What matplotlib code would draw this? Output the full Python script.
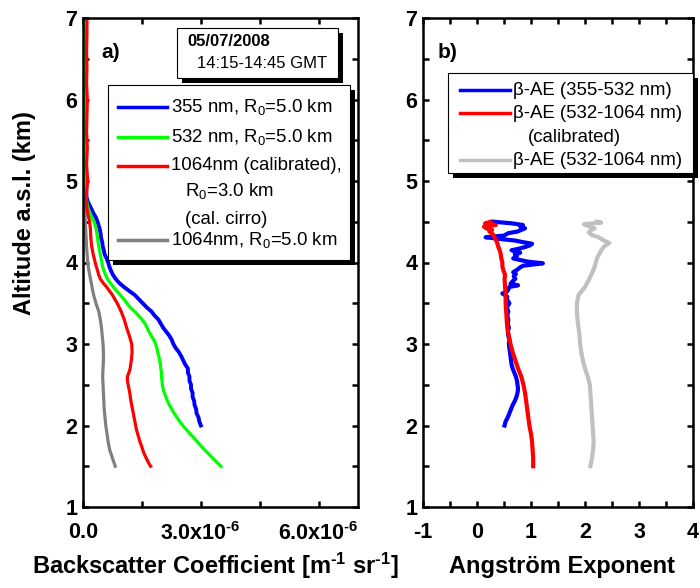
import numpy as np
import matplotlib
matplotlib.use('Agg')
import matplotlib.pyplot as plt
from matplotlib.patches import Rectangle
from matplotlib.lines import Line2D
from matplotlib.ticker import MultipleLocator, FuncFormatter

plt.rcParams['font.family'] = ['Liberation Sans', 'DejaVu Sans']
plt.rcParams['mathtext.default'] = 'regular'
plt.rcParams['mathtext.fontset'] = 'custom'
plt.rcParams['mathtext.rm'] = 'Liberation Sans:bold'
plt.rcParams['axes.unicode_minus'] = False

# backscatter profiles, values in 1e-6 m^-1 sr^-1
ALT_355 = [2.00, 2.05, 2.10, 2.15, 2.20, 2.25, 2.30, 2.35, 2.40, 2.45, 2.50, 2.55, 2.60,
           2.65, 2.70, 2.75, 2.80, 2.85, 2.90, 2.95, 3.00, 3.05, 3.10, 3.15, 3.20, 3.25,
           3.30, 3.35, 3.40, 3.45, 3.50, 3.55, 3.60, 3.65, 3.70, 3.75, 3.80, 3.85, 3.90,
           3.95, 4.00, 4.05, 4.10, 4.15, 4.20, 4.25, 4.30, 4.35, 4.40, 4.45, 4.50, 4.55,
           4.60, 4.65, 4.70, 4.75, 4.80, 5.00, 5.50, 6.00, 6.50, 7.00]
BSC_355 = [3.00, 2.96, 2.94, 2.89, 2.88, 2.84, 2.83, 2.79, 2.79, 2.75, 2.75, 2.71, 2.71,
           2.67, 2.67, 2.60, 2.55, 2.50, 2.44, 2.36, 2.30, 2.26, 2.20, 2.12, 2.04, 1.98,
           1.92, 1.82, 1.74, 1.62, 1.52, 1.42, 1.32, 1.18, 1.04, 0.92, 0.83, 0.76, 0.71,
           0.67, 0.64, 0.60, 0.55, 0.53, 0.50, 0.49, 0.46, 0.45, 0.43, 0.40, 0.37, 0.33,
           0.27, 0.22, 0.17, 0.12, 0.09, 0.07, 0.07, 0.06, 0.06, 0.06]

ALT_532 = [1.50, 1.55, 1.60, 1.65, 1.70, 1.75, 1.80, 1.85, 1.90, 1.95, 2.00, 2.05, 2.10,
           2.15, 2.20, 2.25, 2.30, 2.35, 2.40, 2.45, 2.50, 2.55, 2.60, 2.65, 2.70, 2.75,
           2.80, 2.85, 2.90, 2.95, 3.00, 3.05, 3.10, 3.15, 3.20, 3.25, 3.30, 3.35, 3.40,
           3.45, 3.50, 3.55, 3.60, 3.65, 3.70, 3.75, 3.80, 3.85, 3.90, 3.95, 4.00, 4.10,
           4.20, 4.30, 4.40, 4.50, 4.60, 4.70, 4.80, 5.50, 6.50, 7.00]
BSC_532 = [3.51, 3.40, 3.30, 3.20, 3.10, 3.00, 2.91, 2.82, 2.72, 2.63, 2.54, 2.46, 2.39,
           2.32, 2.26, 2.20, 2.15, 2.11, 2.07, 2.04, 2.02, 2.01, 2.00, 2.00, 1.98, 1.97,
           1.95, 1.93, 1.90, 1.88, 1.85, 1.80, 1.74, 1.68, 1.63, 1.58, 1.50, 1.41, 1.31,
           1.20, 1.12, 1.04, 0.95, 0.86, 0.77, 0.69, 0.62, 0.57, 0.53, 0.50, 0.48, 0.44,
           0.40, 0.37, 0.34, 0.28, 0.18, 0.11, 0.08, 0.06, 0.05, 0.05]

ALT_1064C = [1.50, 1.55, 1.60, 1.65, 1.70, 1.75, 1.80, 1.85, 1.90, 1.95, 2.00, 2.10, 2.20,
             2.30, 2.40, 2.50, 2.55, 2.60, 2.65, 2.70, 2.80, 2.90, 3.00, 3.10, 3.20, 3.30,
             3.40, 3.50, 3.60, 3.70, 3.75, 3.80, 3.85, 3.90, 3.95, 4.00, 4.10, 4.20, 4.30,
             4.40, 4.50, 4.60, 4.70, 4.80, 4.90, 5.00, 5.20, 5.40, 5.60, 5.80, 6.00, 6.20,
             6.40, 6.60, 6.80, 7.00]
BSC_1064C = [1.72, 1.66, 1.61, 1.56, 1.52, 1.49, 1.45, 1.42, 1.39, 1.36, 1.34, 1.30, 1.26,
             1.22, 1.19, 1.15, 1.13, 1.13, 1.17, 1.20, 1.23, 1.25, 1.24, 1.18, 1.11, 1.05,
             0.97, 0.87, 0.75, 0.60, 0.51, 0.44, 0.40, 0.37, 0.34, 0.31, 0.26, 0.22, 0.20,
             0.19, 0.17, 0.12, 0.09, 0.08, 0.10, 0.12, 0.09, 0.11, 0.09, 0.10, 0.11, 0.09,
             0.10, 0.09, 0.10, 0.10]

ALT_1064 = [1.50, 1.60, 1.70, 1.80, 1.90, 2.00, 2.10, 2.20, 2.30, 2.40, 2.50, 2.60, 2.70,
            2.80, 2.90, 3.00, 3.10, 3.20, 3.30, 3.40, 3.50, 3.60, 3.70, 3.80, 3.90, 4.00,
            4.20, 4.40, 4.60, 4.80]
BSC_1064 = [0.82, 0.75, 0.68, 0.64, 0.61, 0.58, 0.56, 0.54, 0.53, 0.52, 0.51, 0.50, 0.51,
            0.52, 0.52, 0.51, 0.49, 0.47, 0.44, 0.40, 0.33, 0.27, 0.23, 0.19, 0.15, 0.12,
            0.09, 0.07, 0.05, 0.04]

# backscatter-related Angstrom exponents
ALT_AE1 = [2.00, 2.05, 2.10, 2.15, 2.20, 2.25, 2.30, 2.35, 2.40, 2.45, 2.50, 2.55, 2.60,
           2.65, 2.70, 2.75, 2.80, 2.85, 2.90, 2.95, 3.00, 3.05, 3.10, 3.15, 3.20, 3.25,
           3.30, 3.35, 3.40, 3.45, 3.50, 3.55, 3.58, 3.60, 3.62, 3.64, 3.67, 3.70, 3.72,
           3.74, 3.77, 3.80, 3.83, 3.86, 3.88, 3.91, 3.94, 3.96, 3.99, 4.01, 4.03, 4.05,
           4.08, 4.10, 4.12, 4.14, 4.15, 4.17, 4.19, 4.21, 4.23, 4.25, 4.27, 4.29, 4.31,
           4.33, 4.36, 4.38, 4.40, 4.42, 4.44, 4.46, 4.48, 4.50]
AE1 = [0.51, 0.53, 0.57, 0.60, 0.63, 0.66, 0.70, 0.73, 0.75, 0.76, 0.75, 0.74, 0.72,
       0.69, 0.66, 0.64, 0.63, 0.62, 0.61, 0.60, 0.59, 0.60, 0.58, 0.57, 0.59, 0.57,
       0.58, 0.56, 0.58, 0.55, 0.60, 0.55, 0.56, 0.52, 0.47, 0.55, 0.58, 0.60, 0.76,
       0.62, 0.66, 0.71, 0.68, 0.72, 0.67, 0.74, 0.80, 0.85, 1.22, 0.95, 0.80, 0.67,
       0.74, 0.70, 0.80, 0.72, 0.64, 0.78, 0.89, 0.98, 1.02, 0.85, 0.70, 0.40, 0.16,
       0.50, 0.58, 0.75, 0.82, 0.89, 0.80, 0.85, 0.65, 0.31]

ALT_AE2C = [1.50, 1.60, 1.70, 1.80, 1.90, 2.00, 2.10, 2.20, 2.30, 2.40, 2.50, 2.60, 2.70,
            2.80, 2.90, 3.00, 3.10, 3.20, 3.30, 3.40, 3.50, 3.60, 3.70, 3.80, 3.85, 3.90,
            3.95, 4.00, 4.05, 4.10, 4.15, 4.20, 4.25, 4.30, 4.35, 4.38, 4.40, 4.42, 4.44,
            4.46, 4.48, 4.50]
AE2C = [1.04, 1.04, 1.03, 1.02, 1.00, 0.97, 0.95, 0.93, 0.91, 0.89, 0.86, 0.82, 0.76,
        0.71, 0.66, 0.62, 0.59, 0.56, 0.55, 0.54, 0.53, 0.53, 0.52, 0.51, 0.52, 0.49,
        0.47, 0.47, 0.45, 0.44, 0.42, 0.39, 0.37, 0.33, 0.29, 0.23, 0.28, 0.17, 0.13,
        0.35, 0.15, 0.25]

ALT_AE2 = [1.50, 1.60, 1.70, 1.80, 1.90, 2.00, 2.10, 2.20, 2.30, 2.40, 2.50, 2.60, 2.70,
           2.80, 2.90, 3.00, 3.10, 3.20, 3.30, 3.40, 3.50, 3.60, 3.70, 3.80, 3.90, 3.95,
           4.00, 4.05, 4.10, 4.15, 4.20, 4.24, 4.27, 4.31, 4.34, 4.37, 4.40, 4.42, 4.45,
           4.47, 4.49, 4.50]
AE2 = [2.10, 2.13, 2.15, 2.16, 2.15, 2.14, 2.13, 2.12, 2.11, 2.10, 2.09, 2.05, 2.00,
       1.96, 1.93, 1.91, 1.90, 1.88, 1.86, 1.85, 1.85, 1.88, 2.00, 2.08, 2.15, 2.18,
       2.20, 2.22, 2.26, 2.30, 2.36, 2.45, 2.35, 2.25, 2.12, 2.07, 2.12, 2.18, 2.05,
       1.98, 2.30, 2.22]

W, H = 700, 588
TICK_SIZE = 15.5
LABEL_SIZE = 17
LEG_SIZE = 13.4


def fx(px):
    return px / W


def fy(py):
    return 1 - py / H


def style_axes(ax):
    for s in ax.spines.values():
        s.set_linewidth(1.8)
    ax.tick_params(which='both', direction='in', top=True, right=True,
                   width=1.8, length=4.5, labelsize=TICK_SIZE)
    ax.tick_params(axis='x', pad=11)
    ax.tick_params(axis='y', pad=4)
    ax.set_ylim(1, 7)
    ax.yaxis.set_major_locator(MultipleLocator(1))
    ax.yaxis.set_minor_locator(MultipleLocator(0.5))


def shadow_box(fig, x0, y0, x1, y1, off=5):
    fig.add_artist(Rectangle((fx(x0 + off), fy(y1 + off)), fx(x1 - x0), (y1 - y0) / H,
                             transform=fig.transFigure, facecolor='black',
                             edgecolor='none', zorder=5))
    fig.add_artist(Rectangle((fx(x0), fy(y1)), fx(x1 - x0), (y1 - y0) / H,
                             transform=fig.transFigure, facecolor='white',
                             edgecolor='black', linewidth=0.8, zorder=6))


def handle(fig, x0, x1, y, color):
    fig.add_artist(Line2D([fx(x0), fx(x1)], [fy(y), fy(y)], transform=fig.transFigure,
                          color=color, linewidth=2.5, zorder=7))


def label(fig, x, y, s, size=LEG_SIZE, **kw):
    fig.text(fx(x), fy(y), s, ha='left', va='center', fontsize=size, zorder=8, **kw)


plt.rcParams['font.weight'] = 'bold'
fig = plt.figure(figsize=(7.0, 5.88), dpi=100)
ax1 = fig.add_axes([fx(83), fy(507), fx(358 - 83), (507 - 18) / H])
ax2 = fig.add_axes([fx(423), fy(507), fx(693 - 423), (507 - 18) / H])

# panel a
lw = 2.3
ax1.plot(np.array(BSC_1064) * 1e-6, ALT_1064, color='#808080', lw=lw)
ax1.plot(np.array(BSC_355) * 1e-6, ALT_355, color='#0000ff', lw=lw + 0.5)
ax1.plot(np.array(BSC_532) * 1e-6, ALT_532, color='#00ff00', lw=lw)
ax1.plot(np.array(BSC_1064C) * 1e-6, ALT_1064C, color='#ff0000', lw=lw)
ax1.set_xlim(0, 7e-6)
ax1.xaxis.set_major_locator(MultipleLocator(3e-6))
ax1.xaxis.set_minor_locator(MultipleLocator(1.5e-6))


def sci_fmt(v, pos):
    if abs(v) < 1e-12:
        return '0.0'
    return '%.1fx10$^{\\text{-6}}$' % (v * 1e6)


ax1.xaxis.set_major_formatter(FuncFormatter(sci_fmt))
style_axes(ax1)

# panel b
ax2.plot(AE2, ALT_AE2, color='#c0c0c0', lw=3.0)
ax2.plot(AE1, ALT_AE1, color='#0000ff', lw=3.0)
ax2.plot(AE2C, ALT_AE2C, color='#ff0000', lw=3.0)
ax2.set_xlim(-1, 4)
ax2.xaxis.set_major_locator(MultipleLocator(1))
ax2.xaxis.set_minor_locator(MultipleLocator(0.5))
style_axes(ax2)

# axis titles
fig.text(fx(25), fy(213), 'Altitude a.s.l. (km)', rotation=90, ha='center', va='center',
         fontsize=LABEL_SIZE)
fig.text(fx(215), fy(566), 'Backscatter Coefficient [m$^{\\text{-1}}$ sr$^{\\text{-1}}$]',
         ha='center', va='center', fontsize=LABEL_SIZE)
fig.text(fx(562), fy(567), 'Angstr\u00f6m Exponent', ha='center', va='center',
         fontsize=LABEL_SIZE)

fig.text(fx(101), fy(52), 'a)', ha='left', va='center', fontsize=15)
fig.text(fx(438), fy(52), 'b)', ha='left', va='center', fontsize=15)

# date box
shadow_box(fig, 177, 28, 338, 78)
label(fig, 187, 42, '05/07/2008', size=12)
label(fig, 197, 63, '14:15-14:45 GMT', size=12, fontweight='normal')

# legend panel a
shadow_box(fig, 108, 85, 350, 260)
handle(fig, 118, 167, 107, '#0000ff')
label(fig, 171, 107, '355 nm, R$_0$=5.0 km', fontweight='normal')
handle(fig, 118, 167, 137, '#00ff00')
label(fig, 171, 137, '532 nm, R$_0$=5.0 km', fontweight='normal')
handle(fig, 118, 167, 166, '#ff0000')
label(fig, 171, 166, '1064nm (calibrated),', fontweight='normal')
label(fig, 185, 191, 'R$_0$=3.0 km', fontweight='normal')
label(fig, 185, 219, '(cal. cirro)', fontweight='normal')
handle(fig, 118, 167, 240, '#808080')
label(fig, 171, 240, '1064nm, R$_0$=5.0 km', fontweight='normal')

# legend panel b
shadow_box(fig, 448, 73, 693, 173)
handle(fig, 460, 510, 90, '#0000ff')
label(fig, 513, 90, '\u03b2-AE (355-532 nm)', fontweight='normal')
handle(fig, 460, 510, 113, '#ff0000')
label(fig, 513, 113, '\u03b2-AE (532-1064 nm)', fontweight='normal')
label(fig, 528, 137, '(calibrated)', fontweight='normal')
handle(fig, 460, 510, 160, '#c0c0c0')
label(fig, 513, 160, '\u03b2-AE (532-1064 nm)', fontweight='normal')

fig.savefig('out.png', dpi=100)
